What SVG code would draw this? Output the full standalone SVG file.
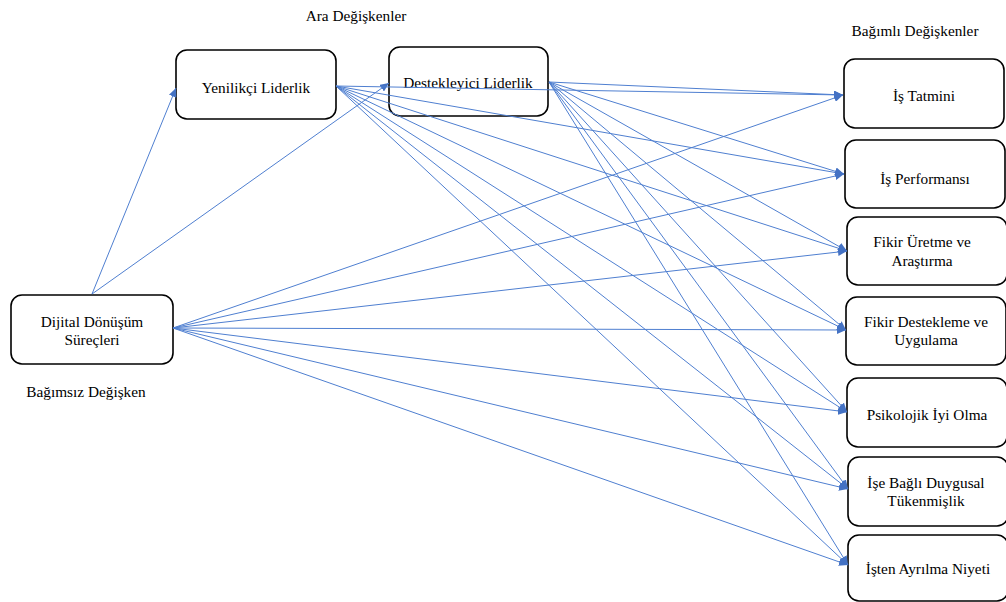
<svg xmlns="http://www.w3.org/2000/svg" width="1006" height="602" viewBox="0 0 1006 602">
<style>
.box{fill:#fff;stroke:#000;stroke-width:1.6}
.t{font-family:"Liberation Serif","Times New Roman",serif;font-size:15.3px;fill:#000;text-anchor:middle;dominant-baseline:central}
.c{stroke:#4F7FD0;stroke-width:1;fill:none;marker-end:url(#ah)}
</style>
<defs>
<marker id="ah" markerUnits="userSpaceOnUse" markerWidth="10" markerHeight="8" refX="9" refY="4" orient="auto">
<path d="M0,0 L9,4 L0,8 Z" fill="#4472C4"/>
</marker>
</defs>
<rect width="1006" height="602" fill="#fff"/>
<text class="t" x="356" y="15">Ara Değişkenler</text>
<text class="t" x="915" y="30">Bağımlı Değişkenler</text>
<text class="t" x="86" y="391">Bağımsız Değişken</text>
<g id="nodes">
<g id="n-dijital"><rect class="box" x="11" y="295" width="162" height="69" rx="11"/><text class="t" x="92" y="321">Dijital Dönüşüm</text><text class="t" x="92" y="339">Süreçleri</text></g>
<g id="n-yenilikci"><rect class="box" x="176" y="50" width="160" height="69" rx="11"/><text class="t" x="256" y="87">Yenilikçi Liderlik</text></g>
<g id="n-destekleyici"><rect class="box" x="389" y="47" width="159" height="69" rx="11"/><text class="t" x="468" y="82">Destekleyici Liderlik</text></g>
<g id="n-tatmin"><rect class="box" x="844" y="59" width="160" height="69" rx="11"/><text class="t" x="924" y="95">İş Tatmini</text></g>
<g id="n-performans"><rect class="box" x="845" y="140" width="160" height="68" rx="11"/><text class="t" x="925" y="178">İş Performansı</text></g>
<g id="n-fikiruretme"><rect class="box" x="847" y="217" width="160" height="68" rx="11"/><text class="t" x="922" y="241">Fikir Üretme ve</text><text class="t" x="922" y="260">Araştırma</text></g>
<g id="n-fikirdestek"><rect class="box" x="846" y="297" width="160" height="68" rx="11"/><text class="t" x="926" y="321">Fikir Destekleme ve</text><text class="t" x="926" y="339">Uygulama</text></g>
<g id="n-psikolojik"><rect class="box" x="847" y="378" width="160" height="69" rx="11"/><text class="t" x="927" y="414">Psikolojik İyi Olma</text></g>
<g id="n-tukenmislik"><rect class="box" x="848" y="457" width="160" height="69" rx="11"/><text class="t" x="926" y="482">İşe Bağlı Duygusal</text><text class="t" x="926" y="500">Tükenmişlik</text></g>
<g id="n-ayrilma"><rect class="box" x="848" y="535" width="160" height="66" rx="11"/><text class="t" x="928" y="568">İşten Ayrılma Niyeti</text></g>
</g>
<g id="connectors">
<line class="c" x1="92" y1="294" x2="176" y2="88"/>
<line class="c" x1="92" y1="294" x2="389" y2="83"/>
<line class="c" x1="173" y1="328" x2="843" y2="95"/>
<line class="c" x1="173" y1="328" x2="844" y2="174"/>
<line class="c" x1="173" y1="328" x2="847" y2="251"/>
<line class="c" x1="173" y1="328" x2="846" y2="330"/>
<line class="c" x1="173" y1="328" x2="847" y2="412"/>
<line class="c" x1="173" y1="328" x2="848" y2="489"/>
<line class="c" x1="173" y1="328" x2="848" y2="565"/>
<line class="c" x1="336" y1="86" x2="843" y2="95"/>
<line class="c" x1="336" y1="86" x2="844" y2="174"/>
<line class="c" x1="336" y1="86" x2="847" y2="251"/>
<line class="c" x1="336" y1="86" x2="846" y2="330"/>
<line class="c" x1="336" y1="86" x2="847" y2="412"/>
<line class="c" x1="336" y1="86" x2="848" y2="489"/>
<line class="c" x1="336" y1="86" x2="848" y2="565"/>
<line class="c" x1="549" y1="82" x2="843" y2="95"/>
<line class="c" x1="549" y1="82" x2="844" y2="174"/>
<line class="c" x1="549" y1="82" x2="847" y2="251"/>
<line class="c" x1="549" y1="82" x2="846" y2="330"/>
<line class="c" x1="549" y1="82" x2="847" y2="412"/>
<line class="c" x1="549" y1="82" x2="848" y2="489"/>
<line class="c" x1="549" y1="82" x2="848" y2="565"/>
</g>
</svg>
